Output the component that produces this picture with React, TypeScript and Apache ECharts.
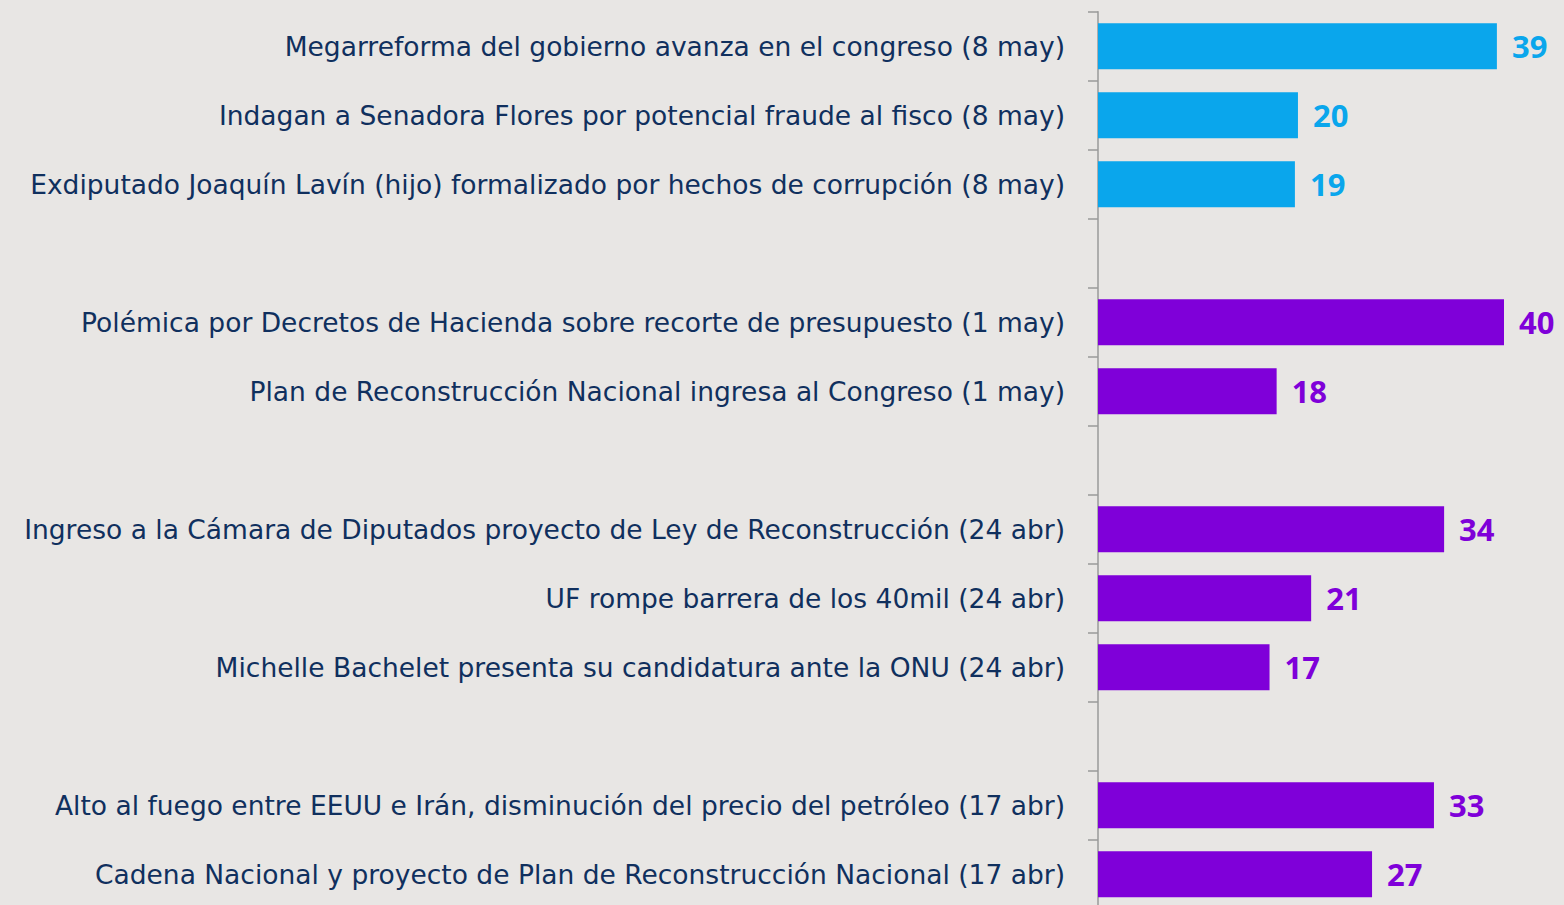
import React, { useEffect, useRef } from "react";
import * as echarts from "echarts";

const categories = [
  "Megarreforma del gobierno avanza en el congreso (8 may)",
  "Indagan a Senadora Flores por potencial fraude al fisco (8 may)",
  "Exdiputado Joaquín Lavín (hijo) formalizado por hechos de corrupción (8 may)",
  " ",
  "Polémica por Decretos de Hacienda sobre recorte de presupuesto (1 may)",
  "Plan de Reconstrucción Nacional ingresa al Congreso (1 may)",
  "  ",
  "Ingreso a la Cámara de Diputados proyecto de Ley de Reconstrucción (24 abr)",
  "UF rompe barrera de los 40mil (24 abr)",
  "Michelle Bachelet presenta su candidatura ante la ONU (24 abr)",
  "   ",
  "Alto al fuego entre EEUU e Irán, disminución del precio del petróleo (17 abr)",
  "Cadena Nacional y proyecto de Plan de Reconstrucción Nacional (17 abr)",
];

const values: (number | null)[] = [39.3, 19.7, 19.4, null, 40, 17.6, null, 34.1, 21, 16.9, null, 33.1, 27];

// true = latest week (blue), false = earlier weeks (purple)
const latest = [true, true, true, false, false, false, false, false, false, false, false, false, false];

const BLUE = "#0aa6ec";
const PURPLE = "#7f00d9";

export default function App() {
  const ref = useRef<HTMLDivElement>(null);
  useEffect(() => {
    document.body.style.margin = "0";
    document.body.style.background = "#e8e6e4";
    const chart = echarts.init(ref.current!, null, { renderer: "svg" });
    const data = values.map((v, i) => {
      const c = latest[i] ? BLUE : PURPLE;
      return {
        value: v,
        itemStyle: { color: c },
        label: { color: c },
      };
    });
    chart.setOption({
      animation: false,
      backgroundColor: "#e8e6e4",
      grid: { left: 1098, top: 11.7, width: 507.5, height: 897, outerBoundsMode: "none", containLabel: false },
      xAxis: {
        type: "value",
        min: 0,
        max: 50,
        show: false,
      },
      yAxis: {
        type: "category",
        inverse: true,
        data: categories,
        axisLine: { show: true, lineStyle: { color: "#9a9a9a", width: 1.5 } },
        axisTick: { show: true, length: 10, lineStyle: { color: "#9a9a9a", width: 1.5 } },
        axisLabel: {
          margin: 33,
          fontFamily: "DejaVu Sans",
          fontSize: 26.5,
          color: "#10305e",
          padding: [0, 0, 6, 0],
        },
        splitLine: { show: false },
      },
      series: [
        {
          type: "bar",
          data,
          barWidth: 46,
          label: {
            show: true,
            position: "right",
            distance: 15,
            fontFamily: "Noto Sans",
            fontWeight: "bold",
            fontSize: 31,
            formatter: (p: any) => (p.value == null ? "" : String(Math.round(p.value))),
          },
        },
      ],
    });
    return () => chart.dispose();
  }, []);
  return (
    <div
      ref={ref}
      style={{ position: "absolute", left: 0, top: 0, width: 1564, height: 920 }}
    />
  );
}
